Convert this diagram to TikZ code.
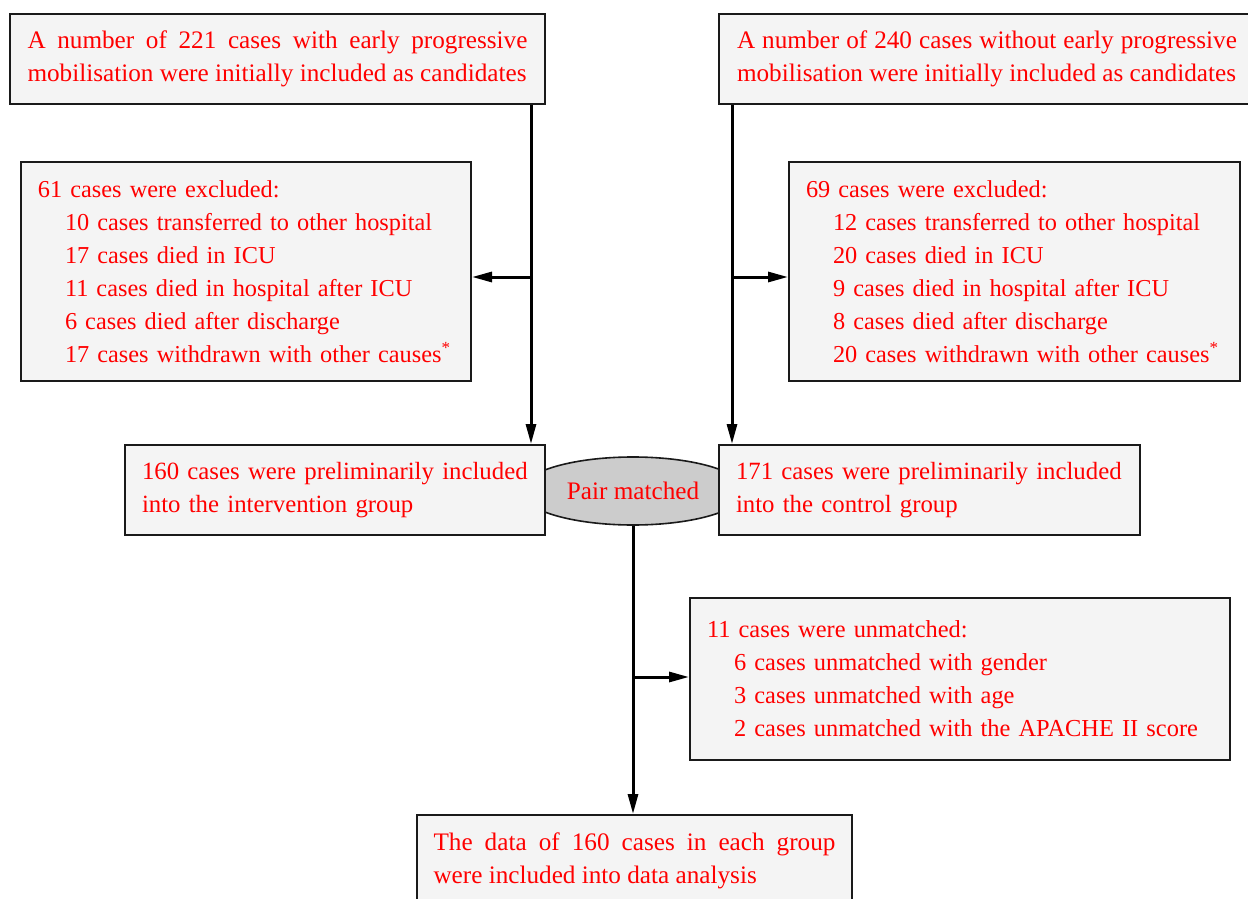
\documentclass[tikz,border=0pt]{standalone}
\usepackage{fontspec}
\setmainfont{Liberation Serif}
\usetikzlibrary{arrows.meta,shapes.geometric}
\definecolor{boxfill}{HTML}{F4F4F4}
\definecolor{ellfill}{HTML}{CCCCCC}
\definecolor{txtred}{HTML}{FF0000}
\definecolor{edge}{HTML}{1A1A1A}
\tikzset{
  box/.style={draw=edge, line width=1pt, fill=boxfill, rectangle, inner xsep=8.5pt, inner ysep=0pt,
    text=txtred, font=\fontsize{12.15}{16.5}\selectfont, align=left},
  jbox/.style={box, align=justify, font=\fontsize{12.6}{16.5}\selectfont},
  conn/.style={line width=1.5pt, draw=black},
  arr/.style={conn, -{Triangle[length=10pt,width=5pt]}},
}
\newcommand{\ind}{\hspace*{13.5pt}}
\newcommand{\oneline}[1]{\mbox{#1}}
\begin{document}
\begin{tikzpicture}[x=0.5pt,y=-0.5pt]
\useasboundingbox (0,0) rectangle (1248,899);
\clip (0,0) rectangle (1248,899);
\fill[white] (0,0) rectangle (1248,899);

% ellipse (drawn below boxes)
\node[ellipse, draw=edge, line width=0.8pt, fill=ellfill, minimum width=112pt, minimum height=34pt, inner sep=0pt,
  text=txtred, font=\fontsize{12.6}{14}\selectfont] (ell) at (633,491) {Pair matched};

% top boxes
\node[jbox, text width=250pt, minimum height=45pt, inner xsep=8.75pt] (tl) at (277.5,59)
  {A number of 221 cases with early progressive\linebreak mobilisation were initially included as candidates};
\node[jbox, text width=250pt, minimum height=45pt, inner xsep=9pt] (tr) at (987,59)
  {A number of 240 cases without early progressive\linebreak mobilisation were initially included as candidates};

% exclusion boxes
\node[box, text width=208pt, minimum height=109.5pt] (exL) at (246,271.5)
  {\oneline{61 cases were excluded:}\\
   \oneline{\ind10 cases transferred to other hospital}\\
   \oneline{\ind17 cases died in ICU}\\
   \oneline{\ind11 cases died in hospital after ICU}\\
   \oneline{\ind6 cases died after discharge}\\
   \oneline{\ind17 cases withdrawn with other causes\textsuperscript{*}}};
\node[box, text width=208.5pt, minimum height=109.5pt] (exR) at (1014.5,271.5)
  {\oneline{69 cases were excluded:}\\
   \oneline{\ind12 cases transferred to other hospital}\\
   \oneline{\ind20 cases died in ICU}\\
   \oneline{\ind9 cases died in hospital after ICU}\\
   \oneline{\ind8 cases died after discharge}\\
   \oneline{\ind20 cases withdrawn with other causes\textsuperscript{*}}};

% middle boxes
\node[box, text width=193pt, minimum height=45pt, font=\fontsize{12.4}{16.5}\selectfont] (mL) at (335,490)
  {\oneline{160 cases were preliminarily included}\\\oneline{into the intervention group}};
\node[box, text width=193.5pt, minimum height=45pt, font=\fontsize{12.4}{16.5}\selectfont] (mR) at (929.5,490)
  {\oneline{171 cases were preliminarily included}\\\oneline{into the control group}};

% unmatched box
\node[box, text width=253pt, minimum height=81pt, font=\fontsize{12.2}{16.5}\selectfont] (un) at (960,679)
  {\oneline{11 cases were unmatched:}\\
   \oneline{\ind6 cases unmatched with gender}\\
   \oneline{\ind3 cases unmatched with age}\\
   \oneline{\ind2 cases unmatched with the APACHE II score}};

% bottom box
\node[jbox, text width=201pt, minimum height=46pt, inner xsep=8.25pt] (bot) at (634.5,861)
  {The data of 160 cases in each group\linebreak were included into data analysis};

% connectors
\draw[arr] ([xshift=-7.5pt]tl.south east) -- ([xshift=-7.5pt]mL.north east);
\draw[arr] ([xshift=7pt]tr.south west) -- ([xshift=7pt]mR.north west);
\coordinate (jL) at (530,277);
\coordinate (jR) at (733,277);
\draw[arr] (jL) -- (jL -| exL.east);
\draw[arr] (jR) -- (jR -| exR.west);
\draw[arr] (ell.south) -- (ell.south |- bot.north);
\coordinate (jU) at (633,677);
\draw[arr] (jU) -- (jU -| un.west);
\end{tikzpicture}
\end{document}
